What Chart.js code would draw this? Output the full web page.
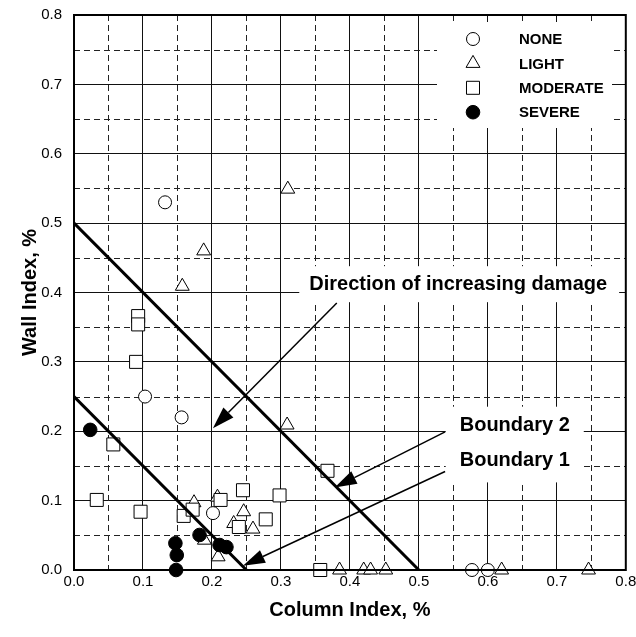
<!DOCTYPE html>
<html>
<head>
<meta charset="utf-8">
<script src="https://cdn.jsdelivr.net/npm/chart.js@4.4.1/dist/chart.umd.min.js"></script>
<style>
  html, body { margin: 0; padding: 0; background: #fff; }
</style>
</head>
<body>
<canvas id="chart" width="636" height="637"></canvas>
<script>
      /* ---------- DATA ---------- */
      const categories = ["NONE", "LIGHT", "MODERATE", "SEVERE"];

      const noneX = [0.132, 0.103, 0.156, 0.2015, 0.577, 0.6];
      const noneY = [0.53, 0.25, 0.22, 0.082, 0, 0];

      const lightX = [0.31, 0.188, 0.157, 0.309, 0.174, 0.208, 0.189, 0.209, 0.246, 0.2315, 0.2595, 0.385, 0.42, 0.43, 0.452, 0.62, 0.746];
      const lightY = [0.549, 0.46, 0.409, 0.209, 0.097, 0.105, 0.043, 0.019, 0.084, 0.067, 0.059, 0, 0, 0, 0, 0, 0];

      const moderateX = [0.093, 0.093, 0.09, 0.057, 0.033, 0.0965, 0.159, 0.172, 0.2125, 0.245, 0.239, 0.278, 0.298, 0.3675, 0.357];
      const moderateY = [0.366, 0.354, 0.3, 0.181, 0.101, 0.084, 0.078, 0.087, 0.101, 0.115, 0.062, 0.073, 0.1075, 0.143, 0];

      const severeX = [0.0235, 0.147, 0.149, 0.148, 0.182, 0.211, 0.221];
      const severeY = [0.202, 0.0385, 0.0215, 0, 0.0505, 0.036, 0.033];

      const boundary1 = [[0, 0.25], [0.25, 0]];
      const boundary2 = [[0, 0.5], [0.5, 0]];

      const tickValues = [0, 0.1, 0.2, 0.3, 0.4, 0.5, 0.6, 0.7, 0.8];
      const tickLabels = ["0.0", "0.1", "0.2", "0.3", "0.4", "0.5", "0.6", "0.7", "0.8"];
      const minorValues = [0.05, 0.15, 0.25, 0.35, 0.45, 0.55, 0.65, 0.75];

      // annotation texts and arrows (data units)
      const notes = [
        { text: "Direction of increasing damage", x: 0.557, y: 0.412 },
        { text: "Boundary 2", x: 0.639, y: 0.208 },
        { text: "Boundary 1", x: 0.639, y: 0.158 },
      ];
      const arrows = [
        { from: [0.381, 0.385], to: [0.2014, 0.2045] },
        { from: [0.538, 0.199], to: [0.378, 0.119] },
        { from: [0.538, 0.142], to: [0.245, 0.006] },
      ];

      const toPts = (xs, ys) => xs.map((x, i) => ({ x: x, y: ys[i] }));
      const pairs = (arr) => arr.map((p) => ({ x: p[0], y: p[1] }));

      const FONT = "'Liberation Sans', Arial, sans-serif";
      const black = "#000";

      /* ---------- MARKER STYLES ---------- */
      const markers = {
        NONE: { pointStyle: "circle", radius: 6.5, fill: "#fff" },
        LIGHT: { pointStyle: "triangle", radius: 8, fill: "#fff" },
        MODERATE: { pointStyle: "rect", radius: 9.2, fill: "#fff" },
        SEVERE: { pointStyle: "circle", radius: 6.8, fill: "#000" },
      };

      const scatterSet = (label, data, order) => ({
        type: "scatter",
        label: label,
        data: data,
        order: order,
        clip: false,
        pointStyle: markers[label].pointStyle,
        pointRadius: markers[label].radius,
        pointBackgroundColor: markers[label].fill,
        pointBorderColor: black,
        pointBorderWidth: 1,
      });

      const lineSet = (label, data) => ({
        type: "line",
        label: label,
        data: data,
        order: 0,
        borderColor: black,
        borderWidth: 3,
        pointRadius: 0,
        fill: false,
        tension: 0,
      });

      /* ---------- PLUGIN: minor grid + white boxes ---------- */
      const decor = {
        id: "decor",
        beforeDatasetsDraw(chart) {
          const { ctx, chartArea: a, scales } = chart;
          const xs = scales.x, ys = scales.y;
          ctx.save();
          ctx.strokeStyle = "#222";
          ctx.lineWidth = 1;
          ctx.setLineDash([6, 4]);
          minorValues.forEach((v) => {
            const px = Math.round(xs.getPixelForValue(v)) + 0.5;
            ctx.beginPath();
            ctx.moveTo(px, a.top);
            ctx.lineTo(px, a.bottom);
            ctx.stroke();
            const py = Math.round(ys.getPixelForValue(v)) + 0.5;
            ctx.beginPath();
            ctx.moveTo(a.left, py);
            ctx.lineTo(a.right, py);
            ctx.stroke();
          });
          ctx.setLineDash([]);

          // white backgrounds behind legend and annotation texts
          ctx.fillStyle = "#fff";
          ctx.fillRect(437, 22, 175, 106);
          ctx.font = "bold 20px " + FONT;
          const d = notes[0];
          const dw = ctx.measureText(d.text).width;
          const dx = xs.getPixelForValue(d.x), dy = ys.getPixelForValue(d.y);
          ctx.fillRect(dx - dw / 2 - 10, dy - 18, dw + 22, 36);
          const b2 = notes[1], b1 = notes[2];
          const bw = ctx.measureText(b2.text).width;
          const bx = xs.getPixelForValue(b2.x);
          const by2 = ys.getPixelForValue(b2.y), by1 = ys.getPixelForValue(b1.y);
          ctx.fillRect(bx - bw / 2 - 14, by2 - 19, bw + 28, by1 - by2 + 41);
          ctx.restore();
        },
        afterDatasetsDraw(chart) {
          const { ctx, chartArea: a, scales } = chart;
          const xs = scales.x, ys = scales.y;
          ctx.save();

          // frame
          ctx.strokeStyle = black;
          ctx.lineWidth = 2;
          ctx.strokeRect(a.left, a.top, a.right - a.left, a.bottom - a.top);

          // annotation texts
          ctx.fillStyle = black;
          ctx.font = "bold 20px " + FONT;
          ctx.textAlign = "center";
          ctx.textBaseline = "middle";
          notes.forEach((n) => {
            ctx.fillText(n.text, xs.getPixelForValue(n.x), ys.getPixelForValue(n.y));
          });

          // arrows
          ctx.lineWidth = 1.5;
          arrows.forEach((ar) => {
            const x1 = xs.getPixelForValue(ar.from[0]), y1 = ys.getPixelForValue(ar.from[1]);
            const x2 = xs.getPixelForValue(ar.to[0]), y2 = ys.getPixelForValue(ar.to[1]);
            const ang = Math.atan2(y2 - y1, x2 - x1);
            const len = 22, hw = 7;
            const bxp = x2 - len * Math.cos(ang), byp = y2 - len * Math.sin(ang);
            ctx.beginPath();
            ctx.moveTo(x1, y1);
            ctx.lineTo(bxp, byp);
            ctx.stroke();
            ctx.beginPath();
            ctx.moveTo(x2, y2);
            ctx.lineTo(bxp + hw * Math.sin(ang), byp - hw * Math.cos(ang));
            ctx.lineTo(bxp - hw * Math.sin(ang), byp + hw * Math.cos(ang));
            ctx.closePath();
            ctx.fill();
          });

          // legend
          ctx.textAlign = "left";
          ctx.font = "bold 15px " + FONT;
          categories.forEach((c, i) => {
            const m = markers[c];
            const y = 39 + i * 24.4;
            ctx.fillStyle = m.fill;
            ctx.strokeStyle = black;
            ctx.lineWidth = 1;
            Chart.helpers.drawPoint(ctx, { pointStyle: m.pointStyle, radius: m.radius, rotation: 0, borderWidth: 1 }, 473, y);
            ctx.fillStyle = black;
            ctx.fillText(c, 519, y + 1);
          });
          ctx.restore();
        },
      };

      /* ---------- CHART ---------- */
      new Chart(document.getElementById("chart"), {
        data: {
          datasets: [
            lineSet("Boundary 1", pairs(boundary1)),
            lineSet("Boundary 2", pairs(boundary2)),
            scatterSet("SEVERE", toPts(severeX, severeY), 1),
            scatterSet("MODERATE", toPts(moderateX, moderateY), 2),
            scatterSet("NONE", toPts(noneX, noneY), 3),
            scatterSet("LIGHT", toPts(lightX, lightY), 4),
          ],
        },
        options: {
          responsive: false,
          animation: false,
          devicePixelRatio: 1,
          layout: { padding: { top: 15, right: 9, left: 0, bottom: 0 } },
          plugins: {
            legend: { display: false },
            tooltip: { enabled: false },
          },
          scales: {
            x: {
              type: "linear",
              min: 0,
              max: 0.8,
              afterFit: (s) => {
                s.height = 67;
                s.paddingLeft = 0;
                s.paddingRight = 0;
              },
              afterBuildTicks: (s) => { s.ticks = tickValues.map((v) => ({ value: v })); },
              ticks: {
                color: black,
                font: { family: FONT, size: 15 },
                padding: 3,
                maxRotation: 0,
                callback: (v, i) => tickLabels[i],
              },
              grid: { color: "#111", lineWidth: 1, drawTicks: false },
              border: { display: false },
              title: {
                display: true,
                text: "Column Index, %",
                color: black,
                font: { family: FONT, size: 20, weight: "bold" },
                padding: { top: 0, bottom: 15 },
              },
            },
            y: {
              type: "linear",
              min: 0,
              max: 0.8,
              afterFit: (s) => {
                s.width = 74;
                s.paddingTop = 0;
                s.paddingBottom = 0;
              },
              afterBuildTicks: (s) => { s.ticks = tickValues.map((v) => ({ value: v })); },
              ticks: {
                color: black,
                font: { family: FONT, size: 15 },
                padding: 12,
                callback: (v, i) => tickLabels[i],
              },
              grid: { color: "#111", lineWidth: 1, drawTicks: false },
              border: { display: false },
              title: {
                display: true,
                text: "Wall Index, %",
                color: black,
                font: { family: FONT, size: 20, weight: "bold" },
                padding: { top: 18, bottom: 0 },
              },
            },
          },
        },
        plugins: [decor],
      });
</script>
</body>
</html>
